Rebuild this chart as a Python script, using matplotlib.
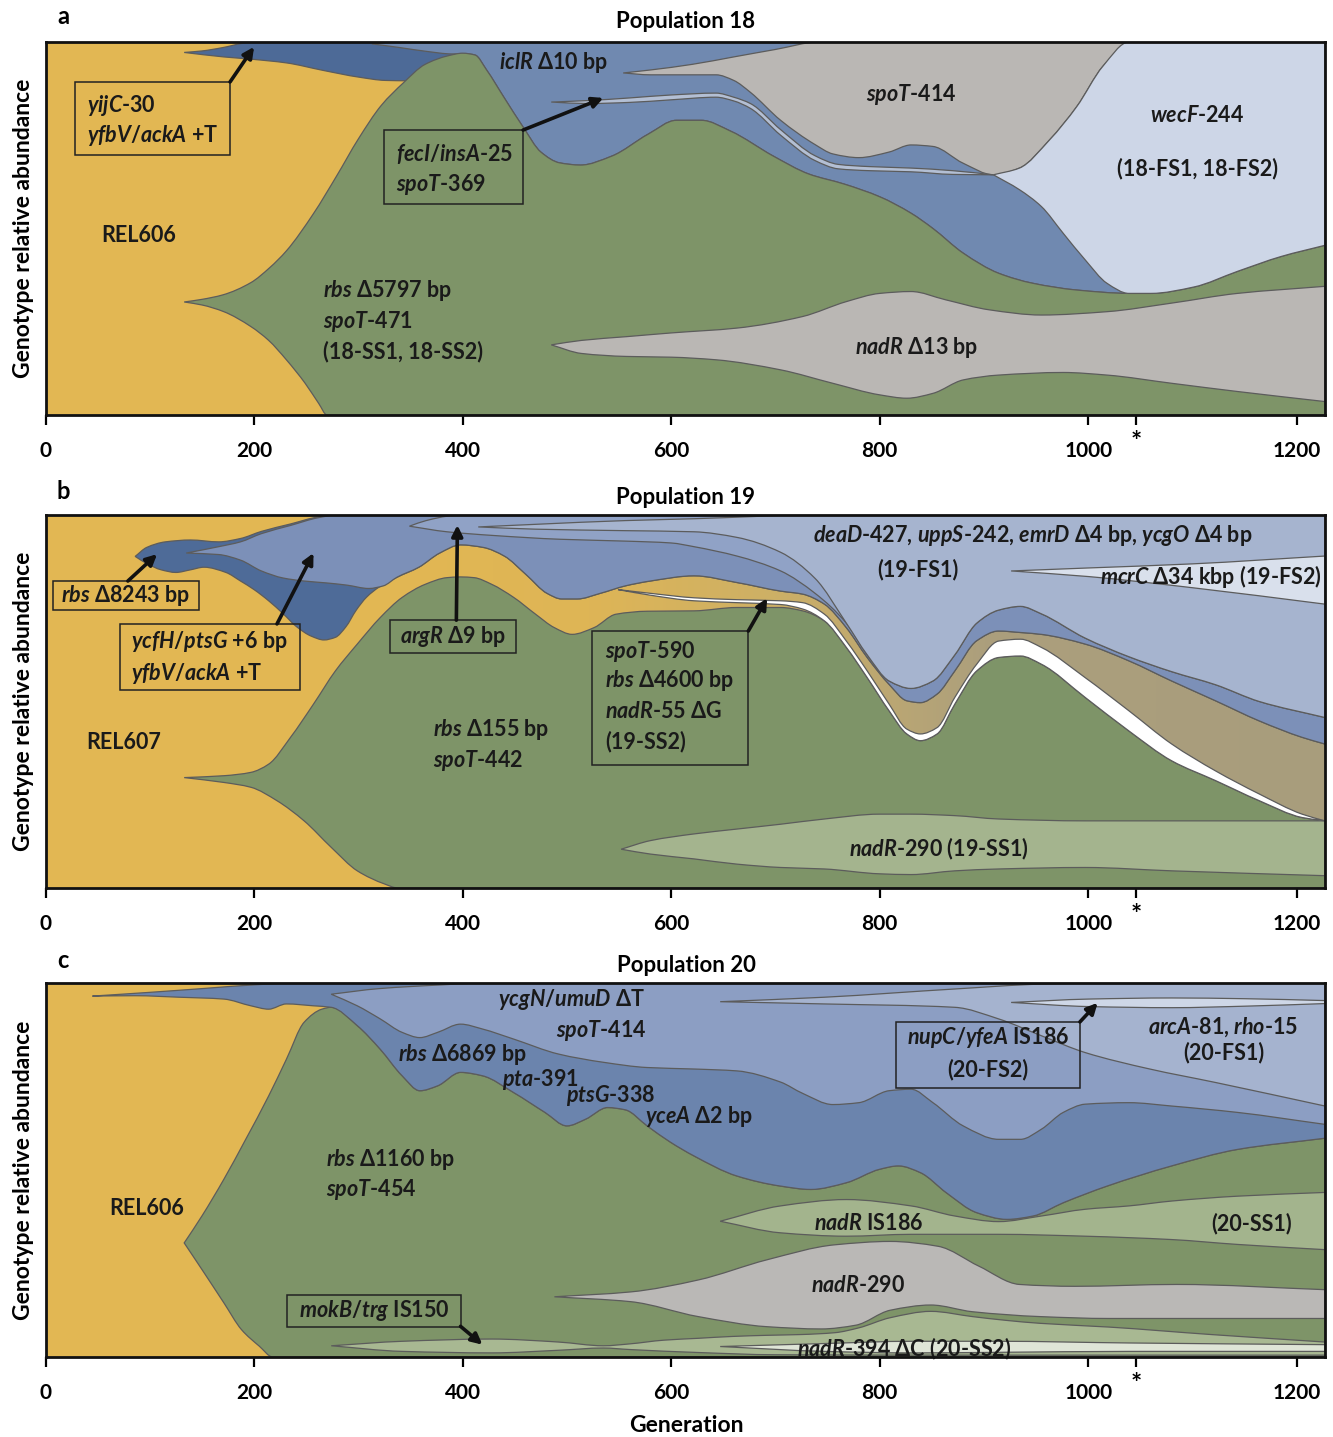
import numpy as np
import matplotlib
matplotlib.use('Agg')
import matplotlib.pyplot as plt
from matplotlib.path import Path
from matplotlib.patches import PathPatch, Rectangle

plt.rcParams['font.family'] = ['Lato', 'DejaVu Sans']
plt.rcParams['mathtext.fontset'] = 'custom'
plt.rcParams['mathtext.it'] = 'Lato:italic:bold'
plt.rcParams['mathtext.rm'] = 'Lato:bold'

GEN_MAX = 1227
TICKS = [0, 200, 400, 600, 800, 1000, 1200]
STAR_GEN = 1046

# ---------------- Population 18: (generation, relative abundance) boundaries
a_green_top = [(133, .303), (150, .31), (170, .322), (197, .355), (215, .395), (231, .44), (257, .54), (279, .64),
               (300, .74), (322, .83), (343, .89), (364, .94), (386, .963), (400, .97), (412, .965), (423, .925),
               (440, .85), (458, .772), (475, .705), (493, .676), (513, .67), (543, .694), (578, .753), (605, .79),
               (629, .79), (657, .761), (698, .694), (732, .646), (766, .619), (800, .585), (830, .541), (851, .50),
               (880, .434), (914, .38), (947, .353), (989, .335), (1039, .326), (1060, .326), (1101, .343),
               (1143, .385), (1185, .425), (1227, .455)]
a_green_bot = [(133, .303), (150, .295), (171, .277), (197, .237), (214, .20), (231, .148), (249, .085),
               (262, .031), (270, 0.0), (1227, 0.0)]
a_nadr_top = [(485, .188), (514, .20), (557, .21), (600, .22), (663, .233), (726, .264), (768, .304), (800, .326),
              (830, .331), (863, .309), (905, .282), (955, .268), (1018, .277), (1080, .30), (1143, .326), (1227, .345)]
a_nadr_bot = [(485, .188), (514, .165), (557, .157), (600, .155), (643, .148), (705, .121), (755, .085), (800, .054),
              (826, .045), (851, .058), (880, .094), (914, .107), (976, .114), (1018, .107), (1080, .085),
              (1143, .063), (1227, .036)]
a_yijc_top = [(133, .972), (150, .976), (170, .985), (190, .997), (200, 1.0), (430, 1.0)]
a_yijc_bot = [(133, .972), (171, .96), (197, .954), (231, .944), (266, .924), (300, .906), (326, .897),
              (347, .896), (390, .895), (430, .895)]
a_iclr_top = [(313, .995), (340, 1.0), (1227, 1.0)]
a_iclr_tip = [(313, .995), (340, .985), (365, .975), (390, .968), (405, .968)]
a_spot_top = [(554, .917), (580, .925), (620, .94), (660, .96), (700, .98), (742, 1.0), (1039, 1.0)]
a_spot_bot = [(554, .917), (580, .912), (643, .912), (660, .897), (676, .865), (705, .79), (738, .725), (755, .70),
              (780, .69), (809, .705), (830, .724), (851, .72), (880, .675), (909, .644), (934, .662), (963, .738),
              (989, .827), (1014, .935), (1039, 1.0)]
a_fec_top = [(485, .839), (520, .843), (560, .85), (600, .858), (643, .863), (660, .852), (676, .835), (705, .765),
             (738, .695), (760, .672), (790, .666), (830, .662), (870, .655), (909, .644)]
a_fec_bot = [(485, .839), (520, .835), (560, .838), (600, .845), (643, .852), (660, .842), (676, .822), (705, .75),
             (738, .682), (760, .66), (790, .655), (830, .652), (870, .645), (909, .644)]
a_wecf_top = [(909, .644), (934, .662), (963, .738), (989, .827), (1014, .935), (1039, 1.0), (1227, 1.0)]
a_wecf_tip = [(909, .644), (934, .604), (955, .559), (976, .487), (997, .416), (1018, .353)]

# ---------------- Population 19
b_green_top = [(133, .296), (171, .301), (197, .31), (214, .332), (235, .404), (257, .493), (278, .582),
               (299, .654), (321, .725), (342, .779), (364, .814), (385, .832), (398, .834), (411, .832),
               (428, .814), (449, .779), (470, .734), (488, .698), (505, .68), (526, .698), (547, .734),
               (577, .742), (622, .743), (663, .752), (705, .752), (726, .743), (747, .716), (768, .645),
               (788, .564), (809, .475), (826, .413), (839, .395), (855, .413), (872, .493), (893, .582),
               (914, .618), (935, .622), (955, .60), (997, .511), (1039, .421), (1080, .341), (1122, .288),
               (1164, .234), (1205, .189), (1227, .18)]
b_green_bot = [(133, .296), (171, .283), (197, .27), (222, .234), (248, .18), (274, .109), (299, .046),
               (325, .011), (338, 0.0), (1227, 0.0)]
b_nadr_top = [(552, .104), (580, .127), (622, .145), (663, .158), (705, .171), (747, .185), (800, .198),
              (830, .198), (872, .194), (914, .185), (997, .18), (1080, .18), (1227, .18)]
b_nadr_bot = [(552, .104), (580, .091), (622, .078), (663, .064), (705, .055), (747, .051), (800, .038),
              (830, .036), (872, .046), (914, .051), (997, .055), (1080, .046), (1227, .033)]
b_ss2_top = [(549, .80), (580, .79), (622, .778), (663, .773), (705, .77), (726, .765), (747, .734), (768, .662),
             (788, .582), (809, .493), (826, .426), (839, .413), (855, .43), (872, .511), (893, .60), (914, .662),
             (935, .667), (955, .645), (997, .564), (1039, .475), (1080, .386), (1122, .314), (1164, .252),
             (1205, .198), (1227, .18)]
b_ss2_tip = [(549, .80), (580, .785), (622, .77), (663, .765), (705, .76), (726, .748)]
b_r8243_top = [(86, .889), (97, .913), (115, .928), (139, .933), (166, .928), (187, .937), (207, .956),
               (235, .976), (262, .995), (279, 1.0), (1227, 1.0)]
b_r8243_bot = [(86, .889), (97, .87), (111, .853), (125, .846), (139, .853), (152, .86), (173, .846), (187, .823),
               (200, .80), (214, .77), (228, .735), (241, .70), (255, .675), (267, .665), (278, .672), (288, .70),
               (298, .745), (308, .78), (320, .807), (337, .833), (358, .86), (378, .898), (398, .92), (420, .913),
               (440, .89), (461, .84), (481, .79), (495, .775), (510, .775), (532, .79), (556, .81), (580, .823),
               (622, .837), (663, .819), (705, .796), (726, .788), (747, .761), (768, .698), (788, .618),
               (809, .546), (826, .502), (839, .497), (855, .52), (872, .582), (893, .663), (914, .689),
               (935, .685), (955, .68), (997, .654), (1039, .609), (1080, .555), (1122, .502), (1164, .448),
               (1205, .404), (1227, .386)]
b_ycfh_top = [(135, .898), (166, .915), (187, .928), (207, .95), (235, .972), (262, .993), (280, 1.0), (1227, 1.0)]
b_ycfh_tip = [(135, .898), (166, .894), (187, .879), (207, .85), (228, .831), (248, .823), (269, .818),
              (289, .812), (310, .803), (324, .81)]
b_argr_top = [(349, .97), (365, .985), (390, .998), (420, 1.0), (1227, 1.0)]
b_argr_bot = [(349, .97), (385, .955), (430, .945), (493, .935), (556, .93), (600, .925), (622, .915), (663, .89),
              (705, .85), (738, .79), (768, .71), (788, .625), (809, .555), (830, .535), (851, .555), (872, .625),
              (893, .71), (914, .745), (935, .755), (955, .735), (997, .67), (1039, .62), (1080, .58),
              (1122, .545), (1164, .50), (1227, .457)]
b_fs1_top = [(415, .968), (470, .975), (556, .985), (622, .99), (680, .996), (717, 1.0), (1227, 1.0)]
b_fs1_tip = [(415, .968), (470, .962), (556, .958), (622, .955), (663, .94), (705, .90), (738, .83)]
b_fs2_top = [(926, .85), (1000, .858), (1100, .869), (1227, .89)]
b_fs2_bot = [(926, .85), (1000, .835), (1100, .805), (1227, .761)]

# ---------------- Population 20
c_green_top = [(133, .305), (150, .377), (171, .475), (192, .582), (214, .698), (231, .796), (248, .895),
               (265, .93), (274, .935), (299, .886), (321, .823), (342, .752), (359, .712), (376, .725),
               (398, .761), (419, .752), (449, .707), (479, .654), (500, .618), (518, .636), (539, .667),
               (556, .661), (577, .618), (599, .575), (622, .5375), (663, .484), (705, .457), (734, .448),
               (768, .466), (800, .502), (818, .511), (839, .493), (864, .439), (893, .386), (922, .368),
               (947, .377), (976, .4125), (1018, .457), (1080, .511), (1143, .555), (1227, .585)]
c_green_bot = [(133, .305), (150, .234), (171, .145), (188, .073), (205, .029), (218, 0.0), (1227, 0.0)]
c_r6869_top = [(45, .965), (100, .975), (150, .985), (200, .995), (240, 1.0), (1227, 1.0)]
c_r6869_tip = [(45, .965), (86, .966), (128, .962), (171, .957), (197, .939), (214, .93), (231, .944), (257, .939)]
c_ycgn_top = [(274, .97), (320, .985), (380, .995), (420, 1.0), (1227, 1.0)]
c_ycgn_bot = [(274, .97), (299, .939), (321, .904), (342, .868), (359, .854), (376, .868), (398, .89), (419, .877),
              (449, .85), (492, .81), (535, .788), (577, .774), (622, .77), (663, .765), (705, .735), (726, .705),
              (755, .675), (780, .68), (809, .712), (830, .716), (851, .68), (880, .618), (914, .582), (935, .582),
              (955, .609), (976, .654), (997, .676), (1039, .68), (1080, .671), (1143, .654), (1227, .622)]
c_fs1_top = [(647, .95), (747, .962), (872, .984), (955, .997), (1018, 1.0), (1227, 1.0)]
c_fs1_bot = [(647, .95), (747, .944), (872, .935), (914, .904), (955, .859), (997, .814), (1059, .77),
             (1122, .734), (1227, .671)]
c_fs2_top = [(926, .948), (1000, .957), (1080, .96), (1150, .958), (1227, .953)]
c_fs2_bot = [(926, .948), (1000, .937), (1080, .934), (1150, .938), (1227, .945)]
c_ss1_top = [(647, .363), (705, .404), (768, .421), (830, .404), (872, .377), (914, .362), (955, .377),
             (997, .395), (1039, .404), (1080, .417), (1143, .43), (1227, .44)]
c_ss1_bot = [(647, .363), (705, .332), (768, .323), (830, .328), (914, .328), (997, .323), (1080, .314),
             (1143, .301), (1227, .287)]
c_n290_top = [(488, .161), (561, .174), (626, .206), (692, .26), (757, .30), (810, .309), (856, .296), (895, .243),
              (934, .194), (987, .189), (1085, .194), (1227, .18)]
c_n290_bot = [(488, .161), (561, .148), (626, .108), (692, .081), (744, .075), (777, .085), (810, .125),
              (849, .139), (889, .121), (954, .108), (1020, .103), (1118, .103), (1227, .103)]
c_mokb_top = [(274, .03), (342, .042), (428, .048), (492, .04), (535, .03), (560, .035), (593, .045), (626, .05),
              (659, .055), (692, .058), (724, .06), (757, .065), (780, .078), (810, .105), (849, .122), (889, .108),
              (921, .098), (954, .09), (1020, .08), (1118, .06), (1227, .04)]
c_mokb_bot = [(274, .03), (342, .015), (428, .011), (492, .018), (535, .024), (560, .02), (626, .012),
              (700, .006), (900, .005), (1227, .005)]
c_ss2_top = [(647, .028), (747, .036), (830, .042), (914, .042), (1039, .0375), (1227, .033)]
c_ss2_bot = [(647, .028), (747, .015), (830, .011), (914, .0125), (1039, .015), (1227, .015)]

YELLOW = '#e2b753'
GREEN = '#7e9468'
GREY = '#bab7b4'
EDGE = '#5c5c5c'
LABEL_SIZE = 15.5


def after(chain, g):
    return [p for p in chain if p[0] >= g]


def slopes(x, y):
    n = len(x)
    h = np.diff(x)
    d = np.diff(y) / h
    if n < 3:
        return np.full(n, d[0])
    m = np.empty(n)
    m[0], m[-1] = d[0], d[-1]
    for i in range(1, n - 1):
        if d[i - 1] * d[i] <= 0:
            m[i] = 0.0
        else:
            w1 = 2 * h[i] + h[i - 1]
            w2 = h[i] + 2 * h[i - 1]
            m[i] = (w1 + w2) / (w1 / d[i - 1] + w2 / d[i])
    return m


def curve_verts(chain):
    x = np.array([p[0] for p in chain], float)
    y = np.array([p[1] for p in chain], float)
    m = slopes(x, y)
    verts = [(x[0], y[0])]
    for i in range(len(x) - 1):
        h = x[i + 1] - x[i]
        verts += [(x[i] + h / 3, y[i] + m[i] * h / 3),
                  (x[i + 1] - h / 3, y[i + 1] - m[i + 1] * h / 3),
                  (x[i + 1], y[i + 1])]
    return verts


def shape(ax, top, bot, color, z, ec=EDGE, lw=0.9):
    tv = curve_verts(top)
    bv = curve_verts(bot)[::-1]
    verts = tv + bv + [tv[0]]
    codes = ([Path.MOVETO] + [Path.CURVE4] * (len(tv) - 1) + [Path.LINETO]
             + [Path.CURVE4] * (len(bv) - 1) + [Path.CLOSEPOLY])
    patch = PathPatch(Path(verts, codes), facecolor=color, edgecolor=ec, lw=lw, zorder=z)
    ax.add_patch(patch)
    return patch


def label(ax, x, y, s, ha='center', size=LABEL_SIZE):
    ax.text(x, y, s, ha=ha, va='center', fontsize=size, fontweight='bold', color='#1a1a1a', zorder=20)


def box(ax, x0, x1, y0, y1):
    ax.add_patch(Rectangle((x0, y0), x1 - x0, y1 - y0, fill=False, ec='#222222', lw=1.1, zorder=19))


def arrow(ax, start, tip):
    ax.annotate('', xy=tip, xytext=start, zorder=21,
                arrowprops=dict(arrowstyle='-|>', color='#111111', lw=2.6, mutation_scale=16,
                                shrinkA=0, shrinkB=0))


def setup(ax):
    ax.set_facecolor(YELLOW)
    ax.set_xlim(0, GEN_MAX)
    ax.set_ylim(0, 1)
    ax.set_yticks([])
    ax.set_xticks(TICKS + [STAR_GEN])
    ax.set_xticklabels([str(t) for t in TICKS] + [''])
    ax.tick_params(axis='x', direction='out', length=7, width=1.6, pad=12, labelsize=15)
    for t in ax.get_xticklabels():
        t.set_fontweight('bold')
    for s in ax.spines.values():
        s.set_linewidth(2.0)
        s.set_color('#111111')
        s.set_zorder(30)
    ax.annotate('*', xy=(STAR_GEN, 0), xycoords=('data', 'axes fraction'), xytext=(0, -11),
                textcoords='offset points', ha='center', va='top', fontsize=19, fontweight='bold')
    ax.set_ylabel('Genotype relative abundance', fontsize=16.5, fontweight='bold', labelpad=8)


W, H = 1333, 1437
fig = plt.figure(figsize=(W / 100, H / 100), dpi=100)
left, width = 45.5 / W, (1325 - 45.5) / W
ax_a = fig.add_axes([left, 1 - 415 / H, width, 373 / H])
ax_b = fig.add_axes([left, 1 - 888 / H, width, 373 / H])
ax_c = fig.add_axes([left, 1 - 1357 / H, width, 374 / H])

# ---- panel a
ax = ax_a
setup(ax)
shape(ax, a_yijc_top, a_yijc_bot, '#4d6a97', 2)
shape(ax, a_iclr_top, a_iclr_tip + after(a_green_top, 412), '#7089b0', 3)
shape(ax, a_green_top, a_green_bot, GREEN, 4)
shape(ax, a_nadr_top, a_nadr_bot, GREY, 5)
shape(ax, a_spot_top, a_spot_bot, GREY, 6)
shape(ax, a_fec_top, a_fec_bot, '#b3bfd4', 7)
shape(ax, a_wecf_top, a_wecf_tip + after(a_green_top, 1039), '#cdd6e7', 8)
label(ax, 89, .48, 'REL606')
box(ax, 28, 177, .697, .893)
label(ax, 40, .831, r'$\mathit{yijC}$-30', ha='left')
label(ax, 40, .748, r'$\mathit{yfbV/ackA}$ +T', ha='left')
arrow(ax, (177, .893), (200, .987))
label(ax, 487, .946, r'$\mathit{iclR}$ Δ10 bp')
box(ax, 325, 458, .566, .764)
label(ax, 336, .70, r'$\mathit{fecI/insA}$-25', ha='left')
label(ax, 336, .617, r'$\mathit{spoT}$-369', ha='left')
arrow(ax, (458, .764), (535, .85))
label(ax, 830, .858, r'$\mathit{spoT}$-414')
label(ax, 1104, .804, r'$\mathit{wecF}$-244')
label(ax, 1105, .662, '(18-FS1, 18-FS2)')
label(ax, 266, .335, r'$\mathit{rbs}$ Δ5797 bp', ha='left')
label(ax, 266, .252, r'$\mathit{spoT}$-471', ha='left')
label(ax, 266, .169, '(18-SS1, 18-SS2)', ha='left')
label(ax, 835, .18, r'$\mathit{nadR}$ Δ13 bp')

# ---- panel b
ax = ax_b
setup(ax)
band = shape(ax, after(b_r8243_bot, 337), after(b_green_top, 342), 'none', 1, ec='none')
gx = np.linspace(337, GEN_MAX, 300)
stops = [337, 520, 700, 900, GEN_MAX]
cols = np.array([[226, 183, 83], [222, 181, 86], [205, 176, 102], [172, 159, 125], [168, 157, 124]]) / 255
grad = np.stack([np.interp(gx, stops, cols[:, k]) for k in range(3)], axis=-1)[None, :, :]
im = ax.imshow(grad, extent=[337, GEN_MAX, 0, 1], aspect='auto', origin='lower', zorder=1)
im.set_clip_path(band)
shape(ax, b_green_top, b_green_bot, GREEN, 2)
shape(ax, b_nadr_top, b_nadr_bot, '#a4b48e', 3)
shape(ax, b_ss2_top, b_ss2_tip + after(b_green_top, 747), '#ffffff', 4)
shape(ax, b_r8243_top, b_r8243_bot, '#4e6b98', 5)
shape(ax, b_ycfh_top, b_ycfh_tip + after(b_r8243_bot, 337), '#7c90b8', 6)
shape(ax, b_argr_top, b_argr_bot, '#90a2c6', 7)
shape(ax, b_fs1_top, b_fs1_tip + after(b_argr_bot, 768), '#a6b4cf', 8)
shape(ax, b_fs2_top, b_fs2_bot, '#d9e0ec', 9)
label(ax, 75, .391, 'REL607')
box(ax, 7, 147, .745, .823)
label(ax, 77, .783, r'$\mathit{rbs}$ Δ8243 bp')
arrow(ax, (79, .823), (107, .895))
box(ax, 71.5, 244, .531, .708)
label(ax, 82, .662, r'$\mathit{ycfH/ptsG}$ +6 bp', ha='left')
label(ax, 82, .576, r'$\mathit{yfbV/ackA}$ +T', ha='left')
arrow(ax, (222, .708), (257, .898))
box(ax, 330, 451, .63, .718)
label(ax, 391, .673, r'$\mathit{argR}$ Δ9 bp')
arrow(ax, (394, .718), (395, .973))
box(ax, 524, 674, .33, .689)
label(ax, 537, .635, r'$\mathit{spoT}$-590', ha='left')
label(ax, 537, .555, r'$\mathit{rbs}$ Δ4600 bp', ha='left')
label(ax, 537, .472, r'$\mathit{nadR}$-55 ΔG', ha='left')
label(ax, 537, .394, '(19-SS2)', ha='left')
arrow(ax, (674, .689), (692, .777))
label(ax, 372, .424, r'$\mathit{rbs}$ Δ155 bp', ha='left')
label(ax, 372, .343, r'$\mathit{spoT}$-442', ha='left')
label(ax, 947, .944, r'$\mathit{deaD}$-427, $\mathit{uppS}$-242, $\mathit{emrD}$ Δ4 bp, $\mathit{ycgO}$ Δ4 bp')
label(ax, 837, .853, '(19-FS1)')
label(ax, 1224, .836, r'$\mathit{mcrC}$ Δ34 kbp (19-FS2)', ha='right')
label(ax, 857, .105, r'$\mathit{nadR}$-290 (19-SS1)')

# ---- panel c
ax = ax_c
setup(ax)
shape(ax, c_green_top, c_green_bot, GREEN, 2)
shape(ax, c_r6869_top, c_r6869_tip + after(c_green_top, 274), '#6b84ad', 3)
shape(ax, c_ycgn_top, c_ycgn_bot, '#8c9ec3', 4)
shape(ax, c_fs1_top, c_fs1_bot, '#a5b3cf', 5)
shape(ax, c_fs2_top, c_fs2_bot, '#ced7e7', 6)
shape(ax, c_ss1_top, c_ss1_bot, '#a3b48d', 7)
shape(ax, c_n290_top, c_n290_bot, '#bab8b6', 8)
shape(ax, c_mokb_top, c_mokb_bot, '#a8b892', 9)
shape(ax, c_ss2_top, c_ss2_bot, '#dfe5d7', 10)
label(ax, 504, .955, r'$\mathit{ycgN/umuD}$ ΔT')
label(ax, 533, .874, r'$\mathit{spoT}$-414')
label(ax, 400, .81, r'$\mathit{rbs}$ Δ6869 bp')
label(ax, 475, .741, r'$\mathit{pta}$-391')
label(ax, 542, .698, r'$\mathit{ptsG}$-338')
label(ax, 627, .644, r'$\mathit{yceA}$ Δ2 bp')
box(ax, 816, 992, .719, .896)
label(ax, 904, .853, r'$\mathit{nupC/yfeA}$ IS186')
label(ax, 904, .77, '(20-FS2)')
arrow(ax, (992, .896), (1009, .947))
label(ax, 1129, .882, r'$\mathit{arcA}$-81, $\mathit{rho}$-15')
label(ax, 1130, .813, '(20-FS1)')
label(ax, 97, .396, 'REL606')
label(ax, 269, .527, r'$\mathit{rbs}$ Δ1160 bp', ha='left')
label(ax, 269, .447, r'$\mathit{spoT}$-454', ha='left')
label(ax, 789, .356, r'$\mathit{nadR}$ IS186')
label(ax, 1157, .356, '(20-SS1)')
label(ax, 779, .19, r'$\mathit{nadR}$-290')
box(ax, 232, 398, .08, .166)
label(ax, 315, .123, r'$\mathit{mokB/trg}$ IS150')
arrow(ax, (398, .082), (419, .033))
label(ax, 823, .021, r'$\mathit{nadR}$-394 ΔC (20-SS2)')

for letter, title, y in [('a', 'Population 18', 0), ('b', 'Population 19', 475), ('c', 'Population 20', 944)]:
    fig.text(63 / W, 1 - (17 + y) / H, letter, ha='center', va='center', fontsize=17, fontweight='bold')
    fig.text(686 / W, 1 - (22 + y) / H, title, ha='center', va='center', fontsize=16, fontweight='bold')
fig.text(686 / W, 1 - 1426 / H, 'Generation', ha='center', va='center', fontsize=16.5, fontweight='bold')

fig.savefig('out.png', dpi=100)
